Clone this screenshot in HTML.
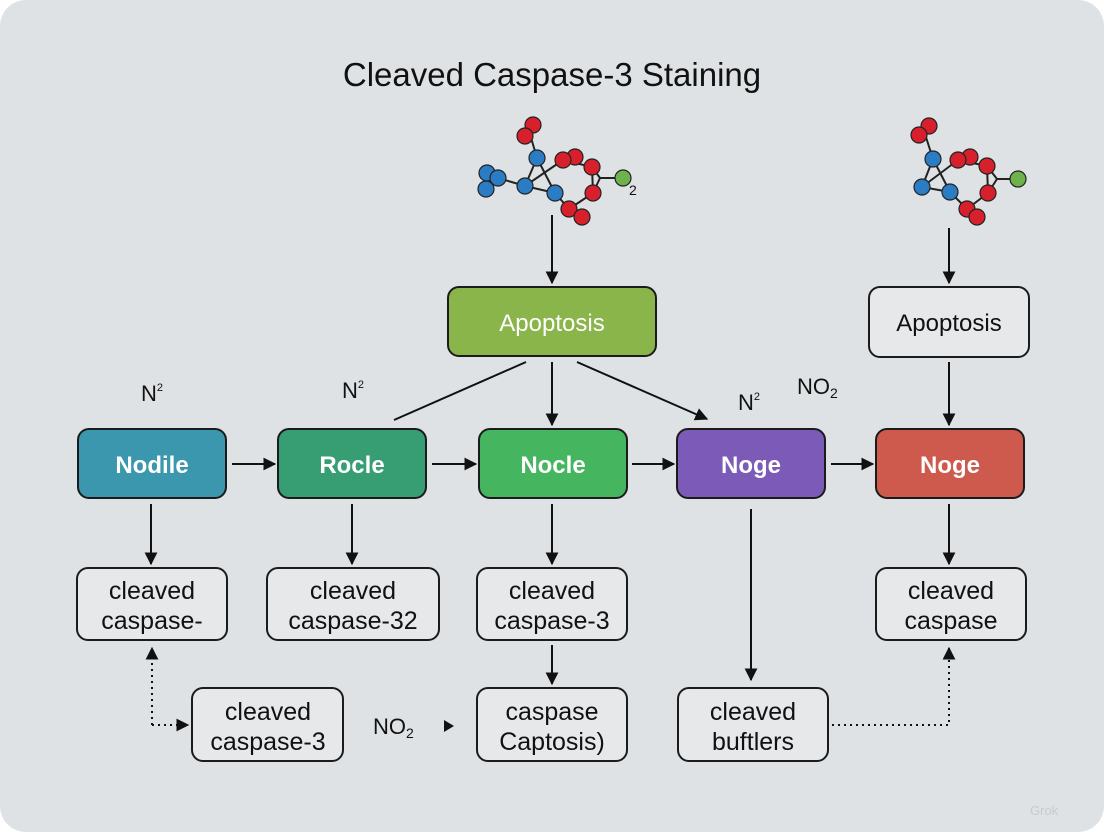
<!DOCTYPE html>
<html><head><meta charset="utf-8"><style>
html,body{margin:0;padding:0;background:#fff;}
svg{display:block;}
text{font-family:"Liberation Sans",sans-serif;}
</style></head><body>
<svg width="1104" height="832" viewBox="0 0 1104 832" xmlns="http://www.w3.org/2000/svg">
<defs>
<marker id="ahb" viewBox="0 0 10 10" refX="9" refY="5" markerWidth="13" markerHeight="13" markerUnits="userSpaceOnUse" orient="auto"><path d="M0,0L10,5L0,10z" fill="#111"/></marker>
</defs>
<rect x="0" y="0" width="1104" height="832" rx="26" fill="#dfe2e5"/>
<text x="552" y="86" font-size="33" text-anchor="middle" fill="#111">Cleaved Caspase-3 Staining</text>

<g stroke="#222" stroke-width="2" fill="none">
<line x1="529" y1="131" x2="537" y2="158"/><line x1="537" y1="158" x2="525" y2="186"/><line x1="537" y1="158" x2="555" y2="193"/>
<line x1="525" y1="186" x2="498" y2="178"/><line x1="525" y1="186" x2="555" y2="193"/><line x1="525" y1="186" x2="563" y2="160"/>
<line x1="563" y1="160" x2="592" y2="167"/><line x1="592" y1="167" x2="593" y2="193"/><line x1="592" y1="167" x2="600" y2="178"/>
<line x1="593" y1="193" x2="600" y2="178"/><line x1="600" y1="178" x2="623" y2="178"/><line x1="593" y1="193" x2="569" y2="209"/><line x1="555" y1="193" x2="569" y2="209"/>
</g>
<g stroke="#222" stroke-width="1.2">
<circle cx="533" cy="125" r="8" fill="#d8202c"/><circle cx="525" cy="136" r="8" fill="#d8202c"/>
<circle cx="575" cy="157" r="8" fill="#d8202c"/><circle cx="563" cy="160" r="8" fill="#d8202c"/>
<circle cx="592" cy="167" r="8" fill="#d8202c"/><circle cx="593" cy="193" r="8" fill="#d8202c"/>
<circle cx="569" cy="209" r="8" fill="#d8202c"/><circle cx="582" cy="217" r="8" fill="#d8202c"/>
<circle cx="537" cy="158" r="8" fill="#2a7cc4"/><circle cx="487" cy="173" r="8" fill="#2a7cc4"/><circle cx="498" cy="178" r="8" fill="#2a7cc4"/><circle cx="486" cy="189" r="8" fill="#2a7cc4"/>
<circle cx="525" cy="186" r="8" fill="#2a7cc4"/><circle cx="555" cy="193" r="8" fill="#2a7cc4"/>
<circle cx="623" cy="178" r="8" fill="#6db24a"/>
</g>
<text x="629" y="195" font-size="14" fill="#111">2</text>
<g stroke="#222" stroke-width="2" fill="none">
<line x1="924" y1="131" x2="933" y2="159"/><line x1="933" y1="159" x2="922" y2="187"/><line x1="933" y1="159" x2="950" y2="192"/>
<line x1="922" y1="187" x2="950" y2="192"/><line x1="922" y1="187" x2="958" y2="160"/><line x1="958" y1="160" x2="987" y2="166"/>
<line x1="987" y1="166" x2="988" y2="193"/><line x1="987" y1="166" x2="997" y2="179"/><line x1="988" y1="193" x2="997" y2="179"/>
<line x1="997" y1="179" x2="1018" y2="179"/><line x1="988" y1="193" x2="967" y2="209"/><line x1="950" y1="192" x2="967" y2="209"/>
</g>
<g stroke="#222" stroke-width="1.2">
<circle cx="929" cy="126" r="8" fill="#d8202c"/><circle cx="919" cy="135" r="8" fill="#d8202c"/>
<circle cx="970" cy="157" r="8" fill="#d8202c"/><circle cx="958" cy="160" r="8" fill="#d8202c"/>
<circle cx="987" cy="166" r="8" fill="#d8202c"/><circle cx="988" cy="193" r="8" fill="#d8202c"/>
<circle cx="967" cy="209" r="8" fill="#d8202c"/><circle cx="977" cy="217" r="8" fill="#d8202c"/>
<circle cx="933" cy="159" r="8" fill="#2a7cc4"/><circle cx="922" cy="187" r="8" fill="#2a7cc4"/><circle cx="950" cy="192" r="8" fill="#2a7cc4"/>
<circle cx="1018" cy="179" r="8" fill="#6db24a"/>
</g>

<g stroke="#111" stroke-width="2" fill="none">
<line x1="552" y1="215" x2="552" y2="283" marker-end="url(#ahb)"/>
<line x1="949" y1="228" x2="949" y2="283" marker-end="url(#ahb)"/>
<line x1="552" y1="362" x2="552" y2="425" marker-end="url(#ahb)"/>
<line x1="526" y1="362" x2="394" y2="420"/>
<line x1="577" y1="362" x2="707" y2="419" marker-end="url(#ahb)"/>
<line x1="949" y1="362" x2="949" y2="425" marker-end="url(#ahb)"/>
<line x1="232" y1="464" x2="275" y2="464" marker-end="url(#ahb)"/>
<line x1="432" y1="464" x2="476" y2="464" marker-end="url(#ahb)"/>
<line x1="632" y1="464" x2="674" y2="464" marker-end="url(#ahb)"/>
<line x1="831" y1="464" x2="873" y2="464" marker-end="url(#ahb)"/>
<line x1="151" y1="504" x2="151" y2="564" marker-end="url(#ahb)"/>
<line x1="352" y1="504" x2="352" y2="564" marker-end="url(#ahb)"/>
<line x1="552" y1="504" x2="552" y2="564" marker-end="url(#ahb)"/>
<line x1="949" y1="504" x2="949" y2="564" marker-end="url(#ahb)"/>
<line x1="552" y1="645" x2="552" y2="684" marker-end="url(#ahb)"/>
<line x1="751" y1="509" x2="751" y2="680" marker-end="url(#ahb)"/>
<polyline points="152,725 152,648" stroke-dasharray="2,4" marker-end="url(#ahb)"/>
<polyline points="152,725 188,725" stroke-dasharray="2,4" marker-end="url(#ahb)"/>
<polyline points="832,725 949,725 949,648" stroke-dasharray="2,4" marker-end="url(#ahb)"/>
</g>
<path d="M444,720L454,726L444,732z" fill="#111"/>

<g stroke="#1b1b1b" stroke-width="2">
<rect x="448" y="287" width="208" height="69" rx="11" fill="#8ab54b"/>
<rect x="869" y="287" width="160" height="70" rx="11" fill="#e6e8ea"/>
<rect x="78" y="429" width="148" height="69" rx="11" fill="#3b97ae"/>
<rect x="278" y="429" width="148" height="69" rx="11" fill="#369e72"/>
<rect x="479" y="429" width="148" height="69" rx="11" fill="#45b65f"/>
<rect x="677" y="429" width="148" height="69" rx="11" fill="#7b5bb7"/>
<rect x="876" y="429" width="148" height="69" rx="11" fill="#ce5a4e"/>
<rect x="77" y="568" width="150" height="72" rx="11" fill="#e6e8ea"/>
<rect x="267" y="568" width="172" height="72" rx="11" fill="#e6e8ea"/>
<rect x="477" y="568" width="150" height="72" rx="11" fill="#e6e8ea"/>
<rect x="876" y="568" width="150" height="72" rx="11" fill="#e6e8ea"/>
<rect x="192" y="688" width="151" height="73" rx="11" fill="#e6e8ea"/>
<rect x="477" y="688" width="150" height="73" rx="11" fill="#e6e8ea"/>
<rect x="678" y="688" width="150" height="73" rx="11" fill="#e6e8ea"/>
</g>

<g font-size="24" text-anchor="middle">
<text x="552" y="331" fill="#fff">Apoptosis</text>
<text x="949" y="331" fill="#111">Apoptosis</text>
<text x="152" y="473" fill="#fff" font-weight="bold">Nodile</text>
<text x="352" y="473" fill="#fff" font-weight="bold">Rocle</text>
<text x="553" y="473" fill="#fff" font-weight="bold">Nocle</text>
<text x="751" y="473" fill="#fff" font-weight="bold">Noge</text>
<text x="950" y="473" fill="#fff" font-weight="bold">Noge</text>
</g>
<g font-size="25" text-anchor="middle" fill="#111">
<text x="152" y="599">cleaved</text><text x="152" y="629">caspase-</text>
<text x="353" y="599">cleaved</text><text x="353" y="629">caspase-32</text>
<text x="552" y="599">cleaved</text><text x="552" y="629">caspase-3</text>
<text x="951" y="599">cleaved</text><text x="951" y="629">caspase</text>
<text x="268" y="720">cleaved</text><text x="268" y="750">caspase-3</text>
<text x="552" y="720">caspase</text><text x="552" y="750">Captosis)</text>
<text x="753" y="720">cleaved</text><text x="753" y="750">buftlers</text>
</g>
<g font-size="22" fill="#111">
<text x="141" y="401">N<tspan font-size="11" dy="-10">2</tspan></text>
<text x="342" y="398">N<tspan font-size="11" dy="-10">2</tspan></text>
<text x="738" y="410">N<tspan font-size="11" dy="-10">2</tspan></text>
<text x="797" y="394">NO<tspan font-size="14" dy="4">2</tspan></text>
<text x="373" y="734">NO<tspan font-size="14" dy="4">2</tspan></text>
</g>
<text x="1030" y="815" font-size="13" fill="#c8cbce">Grok</text>
</svg>
</body></html>
